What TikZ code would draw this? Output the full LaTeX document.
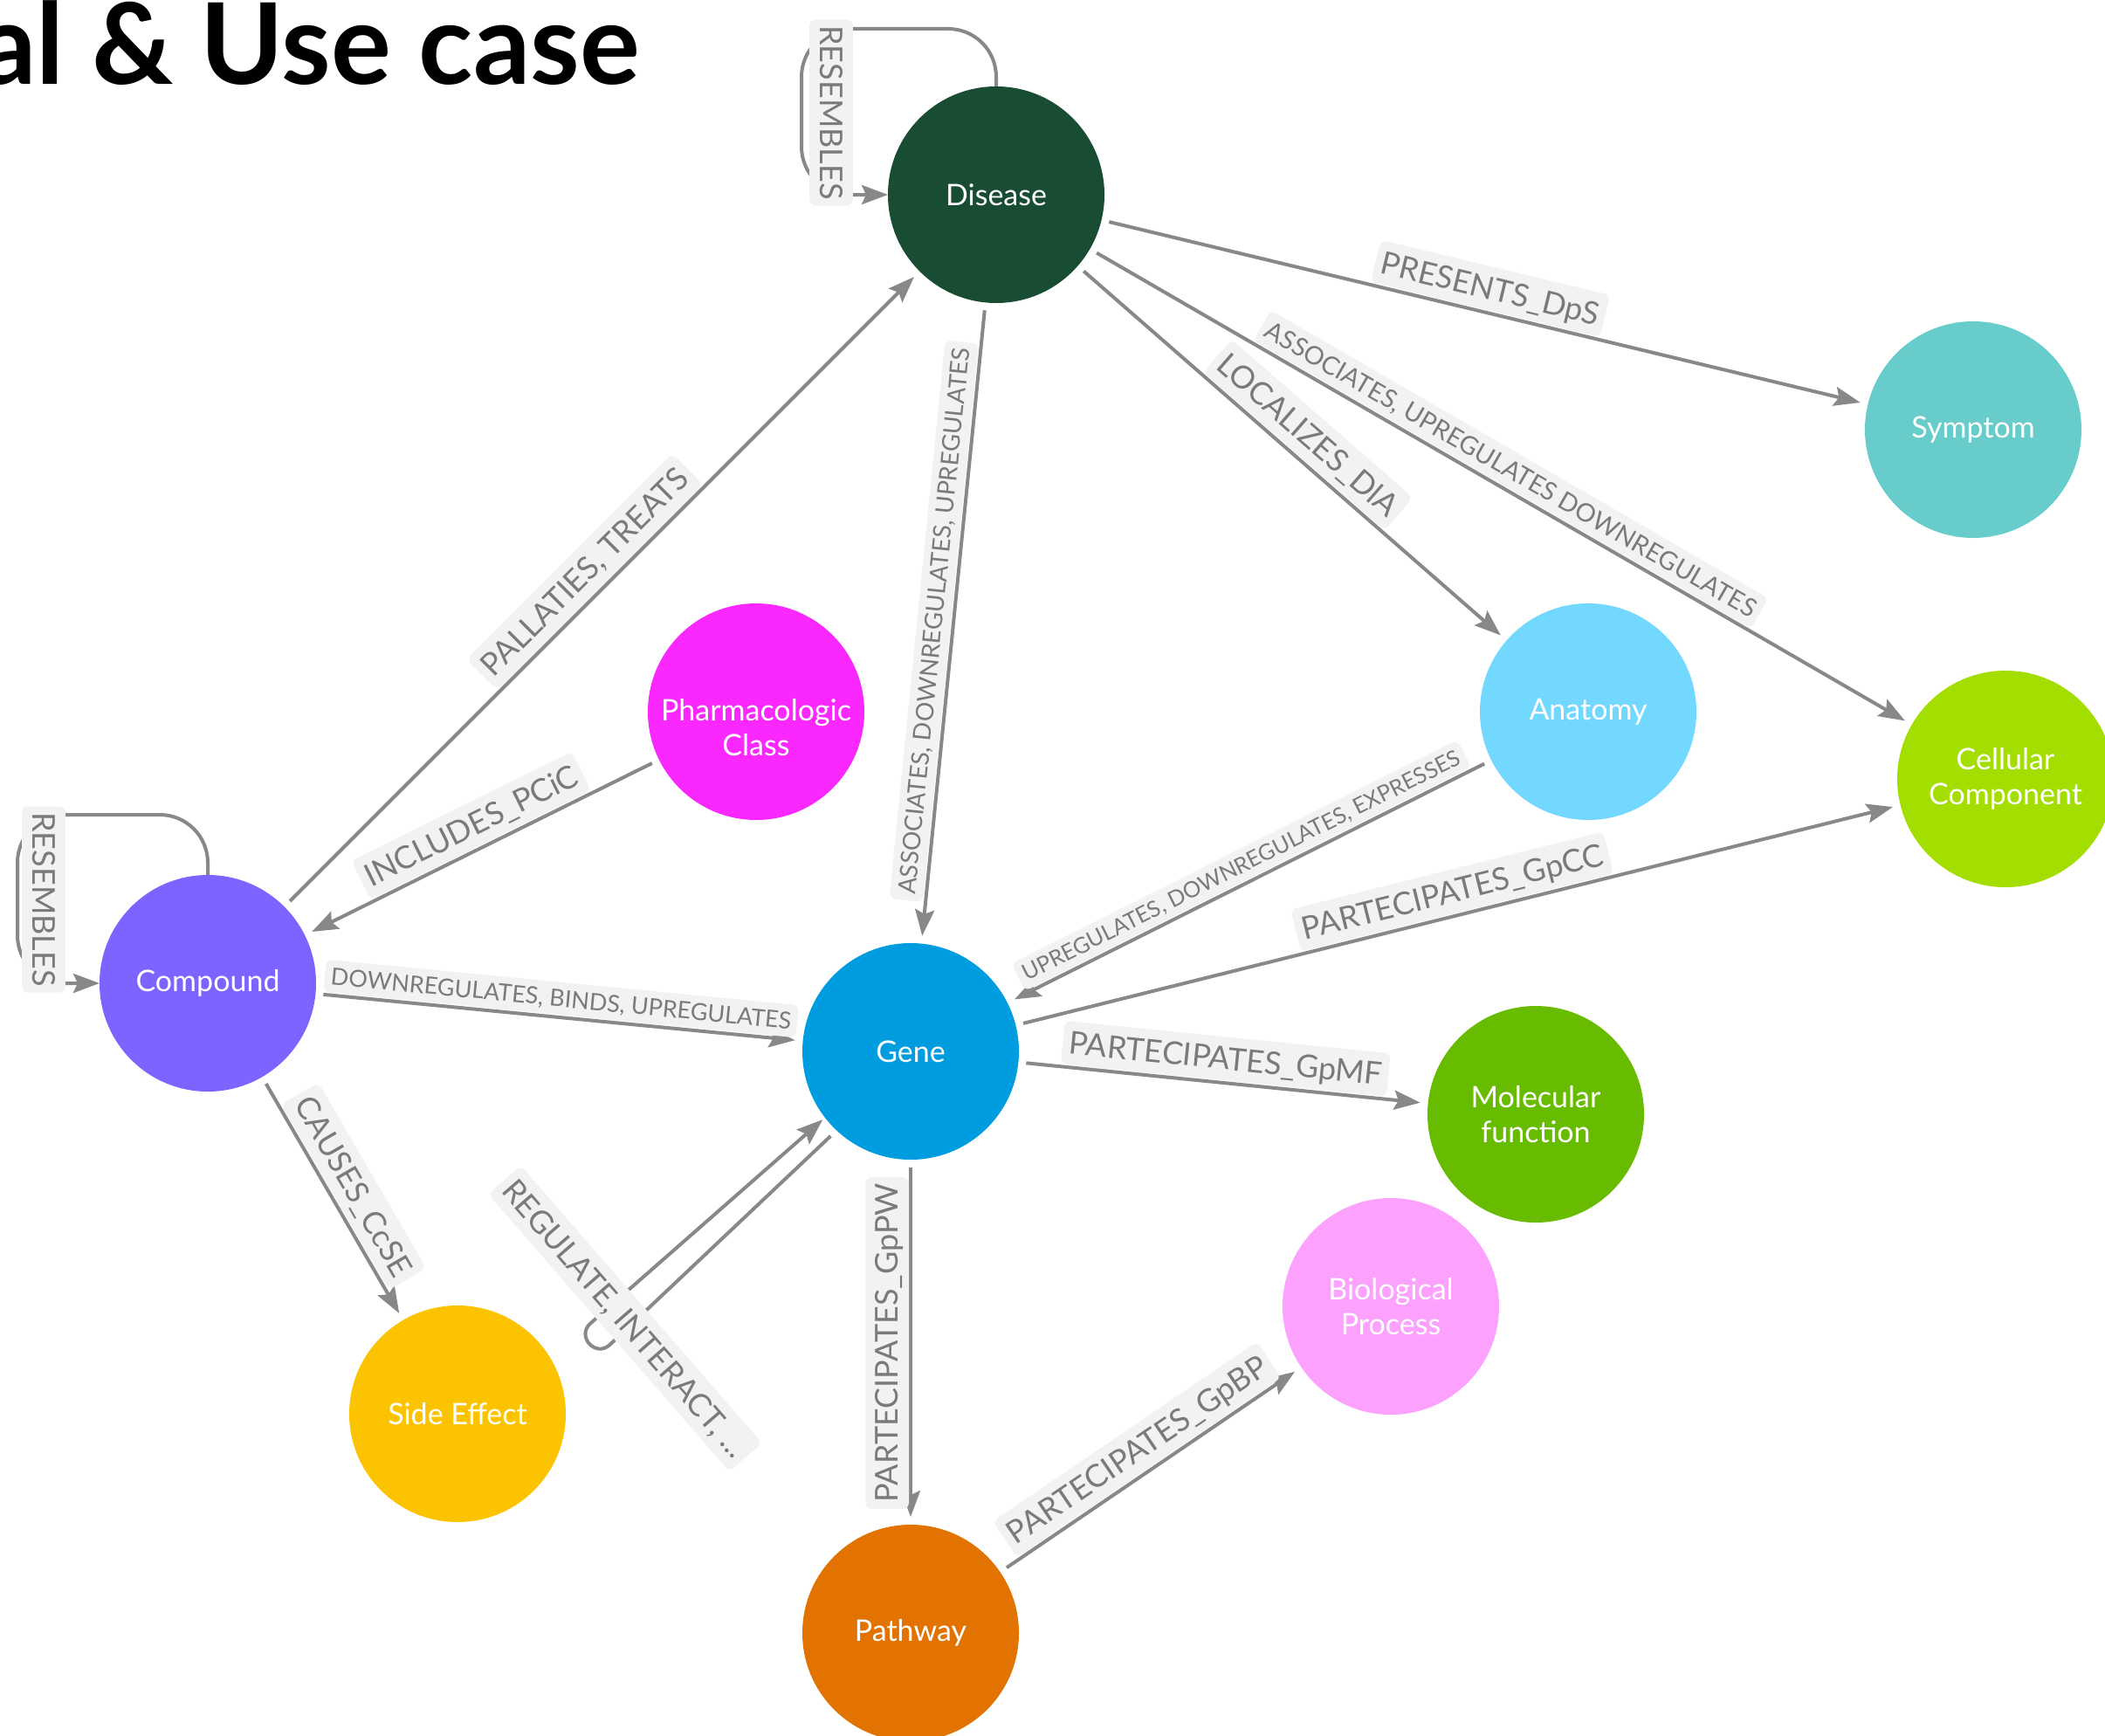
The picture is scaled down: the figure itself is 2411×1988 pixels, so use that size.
\documentclass[tikz,border=0pt]{standalone}
\usepackage{fontspec}
\setmainfont{Lato}
\usetikzlibrary{arrows.meta,calc}
\definecolor{cDis}{HTML}{194D33}
\definecolor{cSym}{HTML}{68CCCA}
\definecolor{cAna}{HTML}{73D8FF}
\definecolor{cCC}{HTML}{A4DD00}
\definecolor{cPC}{HTML}{FA28FF}
\definecolor{cCmp}{HTML}{7B64FF}
\definecolor{cGene}{HTML}{009CE0}
\definecolor{cMF}{HTML}{68BC00}
\definecolor{cBP}{HTML}{FDA1FF}
\definecolor{cSE}{HTML}{FCC400}
\definecolor{cPW}{HTML}{E27300}
\definecolor{edgec}{HTML}{888888}
\definecolor{lblfill}{HTML}{F2F2F2}
\definecolor{lbltext}{HTML}{7A7A7A}
\begin{document}
\begin{tikzpicture}[x=1pt,y=-1pt,
  ent/.style={circle, minimum size=248pt, inner sep=0pt, outer sep=9pt, fill=#1, text=white,
    font=\fontsize{34}{40}\selectfont, align=center},
  enttext/.style={text=white, font=\fontsize{34}{40}\selectfont, align=center, inner sep=0pt},
  rel/.style={draw=edgec, line width=4pt, -{Stealth[length=30pt,width=22pt,inset=5pt]}},
  lbl/.style={fill=lblfill, text=lbltext, rounded corners=7pt, inner xsep=7pt, inner ysep=0pt,
    text height=0.74*#1, text depth=0.04*#1, minimum height=1.38*#1,
    font=\fontsize{#1}{#1}\selectfont},
]
\useasboundingbox (0,0) rectangle (2411,1988);
\clip (0,0) rectangle (2411,1988);

% title
\node[anchor=base east, inner sep=0pt, font=\fontsize{129}{129}\selectfont\bfseries] (title) at (733,97) {al \& Use case};

% nodes
\node[ent=cDis] (dis) at (1141,223) {Disease};
\node[ent=cSym] (sym) at (2260,492) {Symptom};
\node[ent=cAna] (ana) at (1819,815) {Anatomy};
\node[ent=cCC] (cc) at (2297,892) {Cellular\\Component};
\node[ent=cPC] (pc) at (866,815) {};
\node[enttext] (pctext) at ($(pc.center)+(0,18)$) {Pharmacologic\\Class};
\node[ent=cCmp] (cmp) at (238,1126) {Compound};
\node[ent=cGene] (gene) at (1043,1204) {Gene};
\node[ent=cMF] (mf) at (1759,1276) {Molecular\\function};
\node[ent=cBP] (bp) at (1593,1496) {Biological\\Process};
\node[ent=cSE] (se) at (524,1619) {Side Effect};
\node[ent=cPW] (pw) at (1043,1870) {Pathway};

% edges
\draw[rel] (cmp) -- node[lbl=36pt, midway, sloped, above=1pt] {PALLATIES, TREATS} (dis);
\draw[rel] (dis) -- node[lbl=36pt, midway, sloped, above=1pt] {PRESENTS\_DpS} (sym);
\draw[rel] (dis) -- node[lbl=36pt, midway, sloped, above=1pt] {LOCALIZES\_DlA} (ana);
\draw[rel] (dis) -- node[lbl=29pt, midway, sloped, above=1pt] {ASSOCIATES, UPREGULATES DOWNREGULATES} (cc);
\draw[rel] (dis) -- node[lbl=28pt, midway, sloped, above=1pt] {ASSOCIATES, DOWNREGULATES, UPREGULATES} (gene);
\draw[rel] (pc) -- node[lbl=36pt, midway, sloped, above=1pt] {INCLUDES\_PCiC} (cmp);
\draw[rel] (cmp) -- node[lbl=27pt, midway, sloped, above=1pt] {DOWNREGULATES, BINDS, UPREGULATES} (gene);
\draw[rel] (cmp) -- node[lbl=36pt, midway, sloped, above=1pt] {CAUSES\_CcSE} (se);
\draw[rel] (ana) -- node[lbl=25.5pt, midway, sloped, above=1pt] {UPREGULATES, DOWNREGULATES, EXPRESSES} (gene);
\draw[rel] (gene) -- node[lbl=36pt, midway, sloped, above=1pt] {PARTECIPATES\_GpCC} (cc);
\draw[rel] (gene) -- node[lbl=36pt, midway, sloped, above=1pt] {PARTECIPATES\_GpMF} (mf);
\draw[rel] (gene) -- node[lbl=36pt, midway, rotate=90, anchor=south, xshift=-1pt] {PARTECIPATES\_GpPW} (pw);
\draw[rel] (pw) -- node[lbl=36pt, midway, sloped, above=1pt] {PARTECIPATES\_GpBP} (bp);

% self loops
\draw[rel, rounded corners=55pt] ($(dis.center)+(0,-124)$) -- ($(dis.center)+(0,-190)$)
  -- ($(dis.center)+(-223,-190)$) -- ($(dis.center)+(-223,0)$) -- ($(dis.center)+(-124,0)$);
\node[lbl=36pt, rotate=-90] (disloop) at (952,129) {RESEMBLES};

\draw[rel, rounded corners=55pt] ($(cmp.center)+(0,-124)$) -- ($(cmp.center)+(0,-193)$)
  -- ($(cmp.center)+(-218,-193)$) -- ($(cmp.center)+(-218,0)$) -- ($(cmp.center)+(-124,0)$);
\node[lbl=36pt, rotate=-90] (cmploop) at (50,1030) {RESEMBLES};

\coordinate (gA) at ($(gene.center)+(-91.6,96.9)$);
\coordinate (gB) at ($(gene.center)+(-344.6,336.0)$);
\coordinate (gC1) at ($(gene.center)+(-360.9,350.8)$);
\coordinate (gC2) at ($(gene.center)+(-383.1,326.4)$);
\coordinate (gB2) at ($(gene.center)+(-366.9,311.6)$);
\coordinate (gT) at ($(gene.center)+(-100.7,78.1)$);
\draw[rel] (gA) -- (gB) .. controls (gC1) and (gC2) .. (gB2) -- (gT);
\node[lbl=36pt, rotate=-49] (geneloop) at (716,1510) {REGULATE, INTERACT, ...};
\end{tikzpicture}
\end{document}
